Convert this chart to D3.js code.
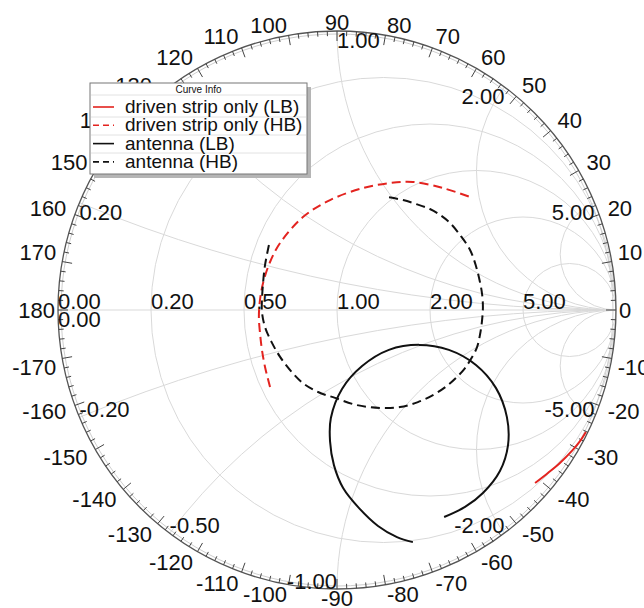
<!DOCTYPE html>
<html><head><meta charset="utf-8">
<script src="https://cdn.jsdelivr.net/npm/d3@7"></script>
<style>
body{margin:0;background:#fff}
svg{display:block}
text{font-family:"Liberation Sans",Arial,Helvetica,sans-serif;fill:#111}
</style>
</head><body>
<svg id="chart" width="644" height="608"></svg>
<script>
// ---- grid definitions ----
const resistanceValues = [0.2, 0.5, 1, 2, 5];
const reactanceValues = [0.2, 0.5, 1, 2, 5, -0.2, -0.5, -1, -2, -5];
const realAxisLabels = [0, 0.2, 0.5, 1, 2, 5];
const angleLabels = d3.range(-170, 181, 10);
const legendNames = ["driven strip only (LB)", "driven strip only (HB)", "antenna (LB)", "antenna (HB)"];

// ---- series: reflection coefficient [re, im] ----
const drivenStripLB = [
  [0.710,-0.620],[0.756,-0.584],[0.799,-0.548],[0.842,-0.505],[0.871,-0.470],[0.892,-0.437]
];
const drivenStripHB = [
  [-0.240,-0.276],[-0.258,-0.204],[-0.269,-0.143],[-0.276,-0.082],[-0.280,-0.025],[-0.276,0.036],
  [-0.265,0.097],[-0.240,0.172],[-0.204,0.240],[-0.122,0.333],[-0.025,0.394],[0.093,0.437],
  [0.190,0.455],[0.272,0.459],[0.380,0.437],[0.477,0.405]
];
const antennaLB = [
  [0.272,-0.832],[0.215,-0.814],[0.147,-0.774],[0.079,-0.710],[0.022,-0.638],[-0.011,-0.556],
  [-0.025,-0.470],[-0.022,-0.387],[0.018,-0.283],[0.090,-0.201],[0.186,-0.143],[0.294,-0.125],
  [0.401,-0.143],[0.498,-0.197],[0.570,-0.280],[0.609,-0.384],[0.613,-0.484],[0.584,-0.577],
  [0.523,-0.656],[0.459,-0.706],[0.384,-0.742]
];
const antennaHB = [
  [-0.244,0.233],[-0.258,0.161],[-0.265,0.097],[-0.269,0.036],[-0.269,-0.007],[-0.258,-0.061],
  [-0.233,-0.118],[-0.204,-0.168],[-0.165,-0.219],[-0.122,-0.262],[-0.068,-0.294],[-0.007,-0.315],
  [0.072,-0.341],[0.154,-0.351],[0.226,-0.348],[0.290,-0.330],[0.344,-0.305],[0.394,-0.272],
  [0.430,-0.240],[0.459,-0.208],[0.480,-0.176],[0.502,-0.133],[0.513,-0.086],[0.520,-0.036],
  [0.523,0.011],[0.520,0.057],[0.513,0.097],[0.498,0.158],[0.477,0.215],[0.444,0.265],
  [0.405,0.312],[0.369,0.341],[0.333,0.362],[0.283,0.380],[0.237,0.394],[0.179,0.405]
];

const seriesList = [
  {name: legendNames[0], data: drivenStripLB, color: "#e3231f", dash: null},
  {name: legendNames[1], data: drivenStripHB, color: "#e3231f", dash: "9,5"},
  {name: legendNames[2], data: antennaLB, color: "#111111", dash: null},
  {name: legendNames[3], data: antennaHB, color: "#111111", dash: "9,5"}
];

// ---- layout ----
const cx = 337, cy = 310, R = 279;
const sx = d3.scaleLinear().domain([-1, 1]).range([cx - R, cx + R]);
const sy = d3.scaleLinear().domain([-1, 1]).range([cy + R, cy - R]);
const len = v => sx(v) - sx(0);
const FS = 22;

const svg = d3.select("#chart");
const defs = svg.append("defs");
defs.append("clipPath").attr("id", "unit").append("circle")
  .attr("cx", sx(0)).attr("cy", sy(0)).attr("r", len(1));

const grid = svg.append("g").attr("clip-path", "url(#unit)")
  .attr("fill", "none").attr("stroke", "#d9d9d9").attr("stroke-width", 1);

grid.selectAll("circle.r").data(resistanceValues).join("circle").attr("class", "r")
  .attr("cx", r => sx(r / (1 + r))).attr("cy", sy(0)).attr("r", r => len(1 / (1 + r)));
grid.selectAll("circle.x").data(reactanceValues).join("circle").attr("class", "x")
  .attr("cx", sx(1)).attr("cy", x => sy(1 / x)).attr("r", x => len(1 / Math.abs(x)));
grid.append("line").attr("x1", sx(-1)).attr("x2", sx(1)).attr("y1", sy(0)).attr("y2", sy(0));

// outer circle
svg.append("circle").attr("cx", sx(0)).attr("cy", sy(0)).attr("r", len(1) - 3)
  .attr("fill", "none").attr("stroke", "#cfcfcf").attr("stroke-width", 1);
svg.append("circle").attr("cx", sx(0)).attr("cy", sy(0)).attr("r", len(1))
  .attr("fill", "none").attr("stroke", "#555").attr("stroke-width", 1.3);

// ticks
const tickAngles = d3.range(-180, 180, 2);
svg.append("g").attr("stroke", "#444").attr("stroke-width", 1)
  .selectAll("line").data(tickAngles).join("line")
  .each(function(a) {
    const t = a * Math.PI / 180, l = (a % 10 === 0) ? 10 : 5;
    const r1 = len(1), r2 = len(1) - l;
    d3.select(this).attr("x1", cx + r1 * Math.cos(t)).attr("y1", cy - r1 * Math.sin(t))
      .attr("x2", cx + r2 * Math.cos(t)).attr("y2", cy - r2 * Math.sin(t));
  });

// angle labels
svg.append("g").selectAll("text").data(angleLabels).join("text")
  .attr("font-size", FS).attr("dominant-baseline", "central")
  .text(d => d)
  .each(function(a) {
    const t = a * Math.PI / 180, c = Math.cos(t), s = Math.sin(t);
    let rp = len(1) + 9;
    if (Math.abs(s) < 0.01) rp = len(1) + 3;
    const near = Math.abs(Math.abs(a) - 170) < 0.1 || Math.abs(Math.abs(a) - 10) < 0.1;
    if (near) rp = len(1) + 6;
    const anchor = c > 0.05 ? "start" : (c < -0.05 ? "end" : "middle");
    let y = cy - rp * s - 8 * s * Math.abs(c);
    if (near) y += (s > 0 ? -7 : 7);
    d3.select(this).attr("text-anchor", anchor).attr("x", cx + rp * c).attr("y", y);
  });

// real axis labels
svg.append("g").selectAll("text").data(realAxisLabels).join("text")
  .attr("font-size", FS).attr("x", r => sx((r - 1) / (r + 1))).attr("y", sy(0) - 1)
  .text(r => r.toFixed(2));
svg.append("text").attr("font-size", FS).attr("x", sx(-1)).attr("y", sy(0) + 17).text((0).toFixed(2));

// reactance labels
const gam = x => [(x * x - 1) / (x * x + 1), 2 * x / (x * x + 1)];
svg.append("g").selectAll("text").data(reactanceValues).join("text")
  .attr("font-size", FS)
  .attr("x", x => sx(gam(x)[0]))
  .attr("y", x => sy(gam(x)[1]) + (x > 0 ? FS * 0.72 + 1 : 0))
  .attr("text-anchor", x => {
    const re = gam(x)[0];
    if (re < -1e-9) return "start";
    if (re > 1e-9) return "end";
    return x > 0 ? "start" : "end";
  })
  .text(x => x.toFixed(2));

// curves
const line = d3.line().x(d => sx(d[0])).y(d => sy(d[1])).curve(d3.curveCatmullRom.alpha(0.5));
svg.append("g").selectAll("path").data(seriesList).join("path")
  .attr("d", s => line(s.data)).attr("fill", "none")
  .attr("stroke", s => s.color).attr("stroke-width", 2)
  .attr("stroke-dasharray", s => s.dash);

// legend
const lg = svg.append("g").attr("transform", "translate(90,83)");
const LW = 217, LH = 91;
lg.append("rect").attr("x", 4).attr("y", 4).attr("width", LW).attr("height", LH).attr("fill", "#b5b5b5");
lg.append("rect").attr("x", 0).attr("y", 0).attr("width", LW).attr("height", LH)
  .attr("fill", "#fff").attr("stroke", "#777").attr("stroke-width", 1);
lg.append("text").attr("x", LW / 2).attr("y", 10).attr("text-anchor", "middle")
  .attr("font-size", 10).text("Curve Info");
lg.selectAll("line.sep").data([12, 34, 52, 70]).join("line").attr("class", "sep")
  .attr("x1", 1).attr("x2", LW - 1).attr("y1", d => d).attr("y2", d => d)
  .attr("stroke", "#e2e2e2");
const rows = lg.selectAll("g.row").data(seriesList).join("g").attr("class", "row")
  .attr("transform", (d, i) => `translate(0,${30 + i * 18.3})`);
rows.append("line").attr("x1", 3).attr("x2", 24).attr("y1", -6).attr("y2", -6)
  .attr("stroke", d => d.color).attr("stroke-width", 1.6).attr("stroke-dasharray", d => d.dash ? "6,4" : null);
rows.append("text").attr("x", 35).attr("y", 0).attr("font-size", 19).text(d => d.name);
</script>
</body></html>
